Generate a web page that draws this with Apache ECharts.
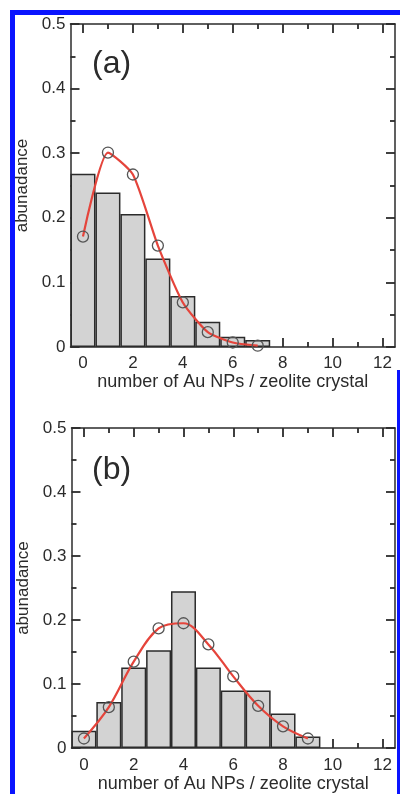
<!DOCTYPE html>
<html>
<head>
<meta charset="utf-8">
<script src="https://cdn.jsdelivr.net/npm/echarts@6/dist/echarts.min.js"></script>
<style>
  html, body { margin: 0; padding: 0; background: #fff; }
  #chart { width: 400px; height: 794px; }
</style>
</head>
<body>
<div id="chart"></div>
<script>
// ---- data ----
const xMajorTicks = [0, 2, 4, 6, 8, 10, 12];
const xMinorTicks = [1, 3, 5, 7, 9, 11];
const countsA = [0, 1, 2, 3, 4, 5, 6, 7];
const barsA = [0.268, 0.239, 0.206, 0.137, 0.079, 0.039, 0.016, 0.011];
const pointsA = [0.171, 0.301, 0.267, 0.157, 0.069, 0.023, 0.007, 0.002];
const countsB = [0, 1, 2, 3, 4, 5, 6, 7, 8, 9];
const barsB = [0.027, 0.072, 0.126, 0.153, 0.245, 0.126, 0.090, 0.090, 0.054, 0.018];
const pointsB = [0.015, 0.064, 0.135, 0.187, 0.195, 0.162, 0.112, 0.066, 0.034, 0.015];
const panelLabels = ['(a)', '(b)'];
const xName = 'number of Au NPs / zeolite crystal';
const yName = 'abunadance';

const FONT = 'Liberation Sans, Arial, sans-serif';
const INK = '#2b2b2b';
const chart = echarts.init(document.getElementById('chart'), null, { renderer: 'canvas' });

const grids = [
  { left: 70.5, top: 24, width: 324.5, height: 323 },
  { left: 71.5, top: 428, width: 323.5, height: 325 }
];
const smoothness = [0.2, 0.35];

const xAxes = [], yAxes = [], series = [];
const ls = () => ({ color: INK, width: 1.5 });
const tl = () => ({ color: INK, width: 1.8 });
const MAJOR = 9, MINOR = 5;

grids.forEach((g, gi) => {
  const base = () => ({ type: 'value', gridIndex: gi, min: -0.5, max: 12.5, splitLine: { show: false } });
  xAxes.push(Object.assign(base(), {
    position: 'bottom',
    name: xName, nameLocation: 'middle', nameGap: gi === 0 ? 25 : 24,
    nameTextStyle: { fontFamily: FONT, fontSize: 18, color: INK },
    axisLine: { show: true, onZero: false, lineStyle: ls() },
    axisTick: { show: true, inside: true, length: MAJOR, lineStyle: tl(), customValues: xMajorTicks },
    axisLabel: { show: true, margin: gi === 0 ? 8 : 9, fontFamily: FONT, fontSize: 17, color: INK, customValues: xMajorTicks }
  }));
  xAxes.push(Object.assign(base(), {
    position: 'bottom',
    axisLine: { show: false, onZero: false },
    axisTick: { show: true, inside: true, length: MINOR, lineStyle: tl(), customValues: xMinorTicks },
    axisLabel: { show: false }
  }));
  xAxes.push(Object.assign(base(), {
    position: 'top',
    axisLine: { show: true, onZero: false, lineStyle: ls() },
    axisTick: { show: true, inside: true, length: MAJOR, lineStyle: tl(), customValues: xMajorTicks },
    axisLabel: { show: false }
  }));
  xAxes.push(Object.assign(base(), {
    position: 'top',
    axisLine: { show: false, onZero: false },
    axisTick: { show: true, inside: true, length: MINOR, lineStyle: tl(), customValues: xMinorTicks },
    axisLabel: { show: false }
  }));

  const ybase = () => ({ type: 'value', gridIndex: gi, min: 0, max: 0.5, interval: 0.1, splitLine: { show: false },
    minorTick: { show: true, splitNumber: 2, length: MINOR, lineStyle: tl() } });
  yAxes.push(Object.assign(ybase(), {
    position: 'left',
    name: yName, nameLocation: 'middle', nameGap: 33,
    nameTextStyle: { fontFamily: FONT, fontSize: 17, color: INK },
    axisLine: { show: true, onZero: false, lineStyle: ls() },
    axisTick: { show: true, inside: true, length: MAJOR, lineStyle: tl() },
    axisLabel: { show: true, margin: 5, fontFamily: FONT, fontSize: 17, color: INK }
  }));
  yAxes.push(Object.assign(ybase(), {
    position: 'right',
    axisLine: { show: true, onZero: false, lineStyle: ls() },
    axisTick: { show: true, inside: true, length: MAJOR, lineStyle: tl() },
    axisLabel: { show: false }
  }));

  const counts = gi === 0 ? countsA : countsB;
  const bars = gi === 0 ? barsA : barsB;
  const pts = gi === 0 ? pointsA : pointsB;
  series.push({
    type: 'bar', xAxisIndex: gi * 4, yAxisIndex: gi * 2,
    data: counts.map((c, i) => [c, bars[i]]),
    barWidth: 25, z: 3,
    itemStyle: { color: '#d3d3d3', borderColor: INK, borderWidth: 1.5 }
  });
  series.push({
    type: 'line', xAxisIndex: gi * 4, yAxisIndex: gi * 2,
    data: counts.map((c, i) => [c, pts[i]]),
    smooth: smoothness[gi], z: 5,
    symbol: 'circle', symbolSize: 11,
    lineStyle: { color: '#e5443b', width: 2.2 },
    itemStyle: { color: 'rgba(255,255,255,0)', borderColor: '#555', borderWidth: 1.3 }
  });
});

const option = {
  animation: false,
  backgroundColor: '#fff',
  grid: grids,
  xAxis: xAxes,
  yAxis: yAxes,
  series: series,
  graphic: [
    { type: 'rect', shape: { x: 10, y: 10, width: 390, height: 5 }, style: { fill: '#0a14ff' }, z: 100 },
    { type: 'rect', shape: { x: 10, y: 10, width: 5, height: 784 }, style: { fill: '#0a14ff' }, z: 100 },
    { type: 'rect', shape: { x: 397, y: 370, width: 3, height: 424 }, style: { fill: '#0a14ff' }, z: 100 },
    { type: 'text', left: 92, top: 48, style: { text: panelLabels[0], font: '32px ' + FONT, fill: INK }, z: 100 },
    { type: 'text', left: 92, top: 454, style: { text: panelLabels[1], font: '32px ' + FONT, fill: INK }, z: 100 }
  ]
};
chart.setOption(option);
</script>
</body>
</html>
